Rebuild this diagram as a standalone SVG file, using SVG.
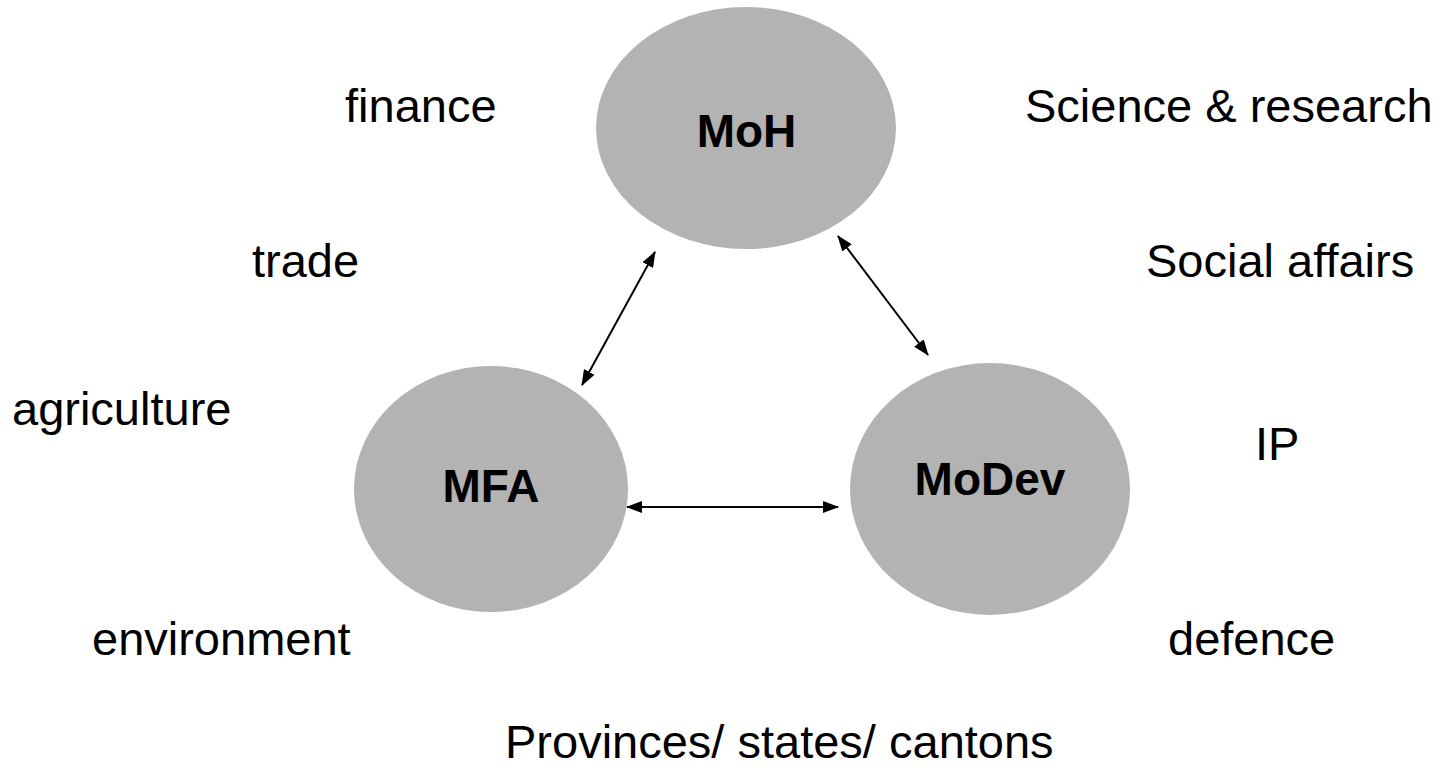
<svg xmlns="http://www.w3.org/2000/svg" width="1446" height="770" viewBox="0 0 1446 770">
<defs>
<style>
.node{fill:#b3b3b3;stroke:none}
.lbl{font-family:"Liberation Sans",Arial,sans-serif;font-size:46px;font-weight:bold;fill:#000;text-anchor:middle}
.t{font-family:"Liberation Sans",Arial,sans-serif;font-size:47px;fill:#000}
.conn{stroke:#000;stroke-width:2;fill:none;marker-start:url(#ah);marker-end:url(#ah)}
</style>
<marker id="ah" viewBox="0 0 16 12" refX="15" refY="6" markerWidth="16" markerHeight="12" markerUnits="userSpaceOnUse" orient="auto-start-reverse">
<path d="M0,0 L16,6 L0,12 z" fill="#000"/>
</marker>
</defs>
<rect width="1446" height="770" fill="#fff"/>
<g id="node-moh">
<ellipse class="node" cx="746" cy="128" rx="150" ry="121"/>
<text class="lbl" x="746.5" y="147">MoH</text>
</g>
<g id="node-mfa">
<ellipse class="node" cx="491" cy="489" rx="137" ry="123"/>
<text class="lbl" x="491" y="502">MFA</text>
</g>
<g id="node-modev">
<ellipse class="node" cx="990" cy="489" rx="140" ry="126"/>
<text class="lbl" x="990" y="495">MoDev</text>
</g>
<g id="connectors">
<line class="conn" x1="655" y1="252" x2="582" y2="385"/>
<line class="conn" x1="838" y1="236" x2="928" y2="355"/>
<line class="conn" x1="627" y1="507" x2="838" y2="507"/>
</g>
<g id="labels">
<text class="t" x="345" y="122">finance</text>
<text class="t" x="1025" y="122">Science &amp; research</text>
<text class="t" x="252" y="277">trade</text>
<text class="t" x="1146" y="277">Social affairs</text>
<text class="t" x="12" y="425">agriculture</text>
<text class="t" x="1255" y="460">IP</text>
<text class="t" x="92" y="655">environment</text>
<text class="t" x="1168" y="655">defence</text>
<text class="t" x="505" y="758">Provinces/ states/ cantons</text>
</g>
</svg>
